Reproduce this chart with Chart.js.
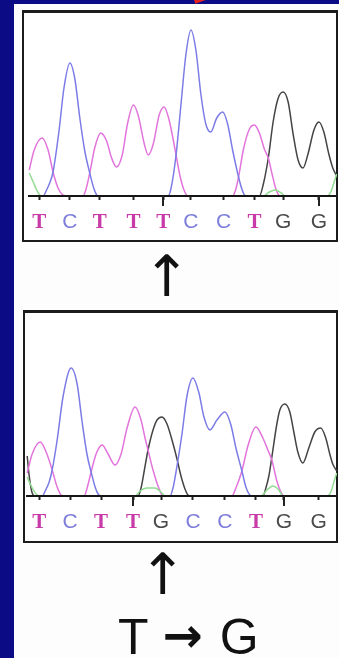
<!DOCTYPE html>
<html>
<head>
<meta charset="utf-8">
<script src="https://cdn.jsdelivr.net/npm/chart.js@4.4.1/dist/chart.umd.min.js"></script>
<style>
  html, body { margin:0; padding:0; }
  body { width:339px; height:658px; background:#0b0b86; position:relative; overflow:hidden; font-family:"Liberation Sans", Arial, sans-serif; }
  #sheet { position:absolute; left:14px; top:4px; right:0; bottom:0; background:#fdfdfd; }
  #redmark { position:absolute; left:194px; top:0px; width:20px; height:4px; background:#e42222; transform:rotate(-20deg); transform-origin:left top; }
  .box { position:absolute; box-sizing:border-box; border:2px solid #1c1c1c; background:#ffffff; }
  #box1 { left:22px; top:10px; width:316px; height:232px; border-top-width:3px; }
  #box2 { left:23px; top:310px; width:315px; height:233px; border-top-width:3px; }
  canvas { position:absolute; }
  #c1 { left:22px; top:10px; }
  #c2 { left:22px; top:310px; }
  .arrow { position:absolute; font-family:"DejaVu Sans", sans-serif; color:#111; line-height:1; font-size:57px; }
  #arrow1 { left:143px; top:248px; }
  #arrow2 { left:139px; top:546px; }
  #mut { position:absolute; left:118px; top:612px; font-size:50px; line-height:50px; height:50px; color:#111; white-space:nowrap; }
  #mut .arr { font-family:"DejaVu Sans", sans-serif; font-weight:bold; font-size:48px; display:inline-block; margin-left:14px; margin-right:17px; position:relative; top:-2px; }
</style>
</head>
<body>
<div id="sheet"></div>
<div id="redmark"></div>
<div class="box" id="box1"></div>
<div class="box" id="box2"></div>
<canvas id="c1" width="315" height="232"></canvas>
<canvas id="c2" width="315" height="233"></canvas>
<div class="arrow" id="arrow1">↑</div>
<div class="arrow" id="arrow2">↑</div>
<div id="mut">T<span class="arr">→</span>G</div>
<script>
// ---------- base calls ----------
const topBases = ['T','C','T','T','T','C','C','T','G','G'];
const topBasePos = [10, 41, 71, 105, 135, 163, 196, 227, 256, 292];
const topMajorTicks = [135, 292];
const botBases = ['T','C','T','T','G','C','C','T','G','G'];
const botBasePos = [12, 43, 74, 106, 134, 166, 198, 229, 257, 292];
const botMajorTicks = [106, 257];

// ---------- top trace (wild type): [scan, intensity] ----------
const topA = [[0,23],[4,14],[8,5],[12,0],[236,0],[242,4],[248,6],[254,3],[258,0],[300,0],[304,4],[308,16],[310,22]];
const topC = [[0,0],[14,0],[17,5],[21,14],[24,24],[30,65],[35,108],[41,133],[46,117],[51,78],[56,45],[61,23],[65,8],[68,1],[70,0],
              [140,0],[143,8],[148,41],[153,92],[158,142],[163,166],[168,146],[173,102],[178,72],[183,64],[189,78],[195,84],[200,72],[205,46],[211,19],[214,8],[217,1],[220,0],[310,0]];
const topG = [[0,0],[232,0],[236,12],[241,38],[246,75],[251,98],[256,104],[261,94],[266,62],[271,36],[276,28],[281,42],[287,66],[292,74],[297,64],[302,42],[306,28],[310,20]];
const topT = [[0,26],[5,46],[13,58],[19,46],[24,24],[29,8],[34,1],[38,0],[54,0],[57,6],[61,23],[66,48],[72,63],[78,55],[83,38],[88,29],[94,42],[99,72],[105,91],[110,80],[116,52],[120,41],[125,52],[131,81],[136,89],[141,76],[145,57],[148,41],[152,20],[156,6],[160,0],
              [205,0],[208,6],[211,19],[216,47],[222,67],[227,71],[232,63],[237,47],[241,38],[245,21],[249,6],[253,0],[310,0]];

// ---------- bottom trace (mutant): [scan, intensity] ----------
const botA = [[0,19],[4,10],[9,2],[13,0],[108,0],[113,5],[120,8],[128,8],[134,4],[138,0],[234,0],[240,6],[246,10],[252,6],[256,0],[300,0],[304,4],[308,17],[310,23]];
const botC = [[0,0],[15,0],[18,5],[22,14],[25,26],[30,56],[36,100],[44,128],[50,112],[55,74],[60,41],[64,24],[68,9],[71,2],[74,0],
              [143,0],[146,8],[150,30],[155,62],[160,100],[166,118],[172,103],[177,79],[183,66],[190,76],[198,84],[204,71],[209,48],[215,25],[219,9],[223,1],[226,0],[310,0]];
const botG = [[0,40],[2,20],[5,3],[8,0],[111,0],[114,8],[117,24],[121,46],[126,66],[130,76],[135,79],[140,72],[145,56],[150,37],[154,20],[158,7],[161,1],[164,0],
              [236,0],[239,8],[242,20],[245,39],[250,72],[253,86],[258,92],[263,84],[267,64],[271,44],[276,33],[282,48],[288,64],[294,68],[299,58],[303,42],[306,32],[310,25]];
const botT = [[0,23],[5,42],[13,54],[19,44],[25,26],[30,9],[34,1],[38,0],[57,0],[60,8],[64,24],[69,42],[75,51],[81,42],[88,31],[94,42],[100,68],[108,89],[114,76],[118,58],[121,46],[126,26],[131,10],[136,0],
              [205,0],[209,8],[215,25],[221,50],[229,69],[236,58],[241,46],[245,36],[250,15],[254,4],[257,0],[310,0]];

// ---------- styles ----------
const traceColor = { A:'#94dc94', C:'#7c7ce6', G:'#444444', T:'#e274dc' };
const labelColor = { A:'#60b060', C:'#7e7edc', G:'#4a4a4a', T:'#c83aa8' };
const labelFont = b => b === 'T'
  ? { family:'"Liberation Serif", "DejaVu Serif", serif', size:21, weight:'bold' }
  : { family:'"Liberation Sans", Arial, sans-serif', size:21, weight:'normal' };

const majorTickPlugin = {
  id:'majorTicks',
  afterDraw(chart, args, opts) {
    const s = chart.scales.x, ctx = chart.ctx;
    ctx.save();
    ctx.strokeStyle = '#222'; ctx.lineWidth = 2;
    opts.values.forEach(v => {
      const x = Math.round(s.getPixelForValue(v));
      ctx.beginPath(); ctx.moveTo(x, s.top); ctx.lineTo(x, s.top + 10); ctx.stroke();
    });
    ctx.restore();
  }
};

function ds(label, pts, base) {
  return {
    label, data: pts.map(p => ({ x:p[0], y:p[1] })),
    borderColor: traceColor[base], borderWidth: 1.5, pointRadius: 0,
    fill:false, cubicInterpolationMode:'monotone',
    clip: { left:6, right:2, top:8, bottom:-1 }
  };
}

function makeChart(id, tr, bases, pos, majors, axisH) {
  return new Chart(document.getElementById(id), {
    type:'line',
    data:{ datasets:[ ds('A', tr.A, 'A'), ds('C', tr.C, 'C'), ds('T', tr.T, 'T'), ds('G', tr.G, 'G') ] },
    options:{
      responsive:false, animation:false, events:[],
      layout:{ padding:{ left:5, right:1, top:6, bottom:0 } },
      plugins:{ legend:{ display:false }, tooltip:{ enabled:false }, majorTicks:{ values: majors } },
      scales:{
        x:{
          type:'linear', min:0, max:309,
          afterFit: s => { s.height = axisH; },
          afterBuildTicks: s => { s.ticks = pos.map(v => ({ value:v })); },
          ticks:{
            autoSkip:false, maxRotation:0, minRotation:0, padding:10,
            callback:(v, i) => bases[i],
            color: c => labelColor[bases[c.index]],
            font: c => labelFont(bases[c.index])
          },
          grid:{ drawOnChartArea:false, drawTicks:true, tickLength:4, tickWidth:2, tickColor:'#222' },
          border:{ display:true, color:'#151515', width:2 }
        },
        y:{ display:false, min:0, max:180 }
      }
    },
    plugins:[majorTickPlugin]
  });
}

makeChart('c1', { A:topA, C:topC, G:topG, T:topT }, topBases, topBasePos, topMajorTicks, 46);
makeChart('c2', { A:botA, C:botC, G:botG, T:botT }, botBases, botBasePos, botMajorTicks, 47);
</script>
</body>
</html>
